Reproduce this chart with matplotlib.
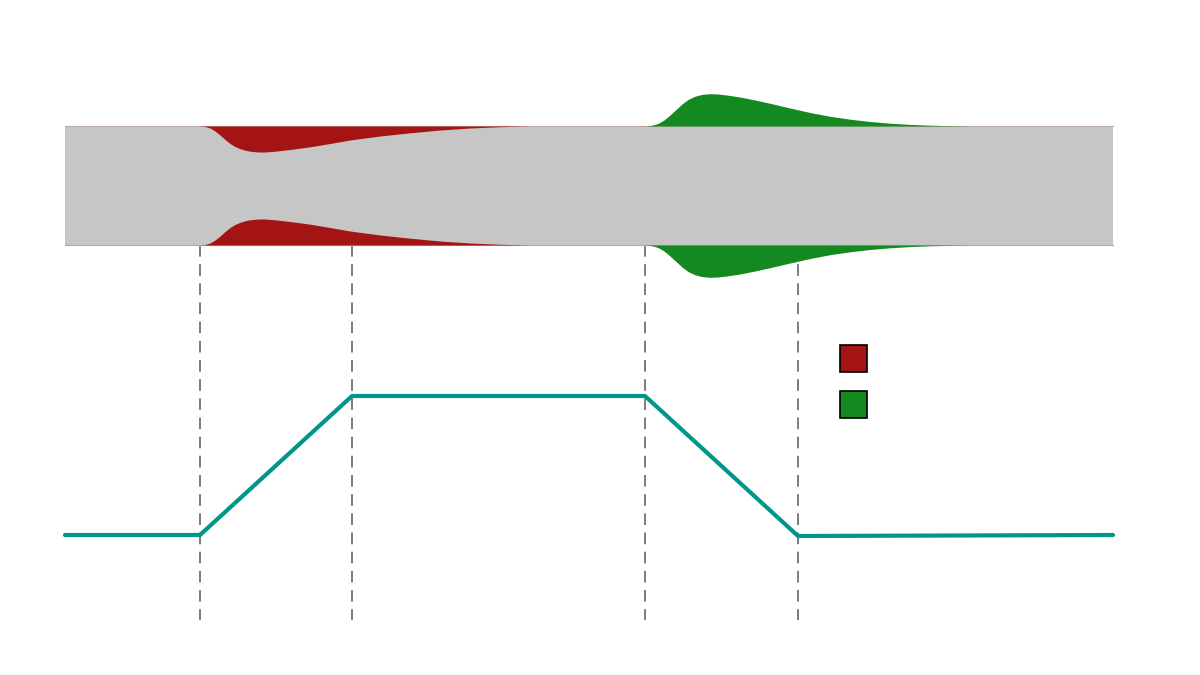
import matplotlib
matplotlib.use("Agg")
import matplotlib.pyplot as plt
from matplotlib.patches import Rectangle

# band (pixel-like units, y grows downward)
band_x = [65, 1113]
band_top = 126
band_bot = 245

# red narrowing depth
red_x = [200, 205, 210, 215, 220, 225, 230, 235, 240, 245, 250, 258, 265, 275, 290,
         310, 330, 350, 380, 410, 440, 470, 500, 530]
red_depth = [0, 0.5, 2, 5, 9, 13.5, 17.5, 20.5, 22.7, 24.2, 25.2, 26, 26, 25.2, 23.5,
             20.8, 17.5, 14, 10, 6.8, 4, 2, 0.7, 0]

# green bulge height
green_x = [645, 652, 658, 664, 670, 676, 682, 688, 695, 702, 710, 718, 728, 740, 755,
           770, 790, 810, 830, 850, 870, 890, 910, 930, 950, 970]
green_height = [0, 0.8, 2.5, 6, 11, 16.5, 22, 26.5, 29.8, 31.6, 32.3, 32, 30.8, 29, 26,
                22.7, 18, 13.5, 9.7, 6.8, 4.5, 2.8, 1.6, 0.8, 0.3, 0]

# trapezoid signal
sig_x = [65, 200, 352, 645, 798, 1113]
sig_y = [535, 535, 396, 396, 536, 535]

# event markers
events = [200, 352, 645, 798]
event_span = [245, 620]

RED = "#a51414"
GREEN = "#13891f"
TEAL = "#00968a"

fig = plt.figure(figsize=(12, 6.75), dpi=100)
ax = fig.add_axes([0, 0, 1, 1])
ax.set_xlim(0, 1200)
ax.set_ylim(675, 0)
ax.axis("off")

ax.add_patch(Rectangle((band_x[0], band_top), band_x[1] - band_x[0], band_bot - band_top,
                       facecolor="#c6c6c6", edgecolor="none", zorder=1))
ax.plot(band_x, [band_top, band_top], color="#b8a8a8", lw=0.8, zorder=1.5)
ax.plot(band_x, [band_bot, band_bot], color="#b8a8a8", lw=0.8, zorder=1.5)

ax.fill_between(red_x, band_top, [band_top + d for d in red_depth],
                color=RED, lw=0, zorder=2)
ax.fill_between(red_x, band_bot, [band_bot - d for d in red_depth],
                color=RED, lw=0, zorder=2)
ax.fill_between(green_x, band_top, [band_top - h for h in green_height],
                color=GREEN, lw=0, zorder=2)
ax.fill_between(green_x, band_bot, [band_bot + h for h in green_height],
                color=GREEN, lw=0, zorder=2)

for ex in events:
    ax.plot([ex, ex], event_span, color="#666666", lw=1.2, ls=(0, (7, 4.5)), zorder=1)

ax.plot(sig_x, sig_y, color=TEAL, lw=3, solid_capstyle="round", zorder=3)

# legend squares without labels
for i, c in enumerate([RED, GREEN]):
    ax.add_patch(Rectangle((840, 345 + i * 46), 27, 27, facecolor=c,
                           edgecolor="black", lw=1.2, zorder=4))

fig.savefig("out.png", dpi=100)
